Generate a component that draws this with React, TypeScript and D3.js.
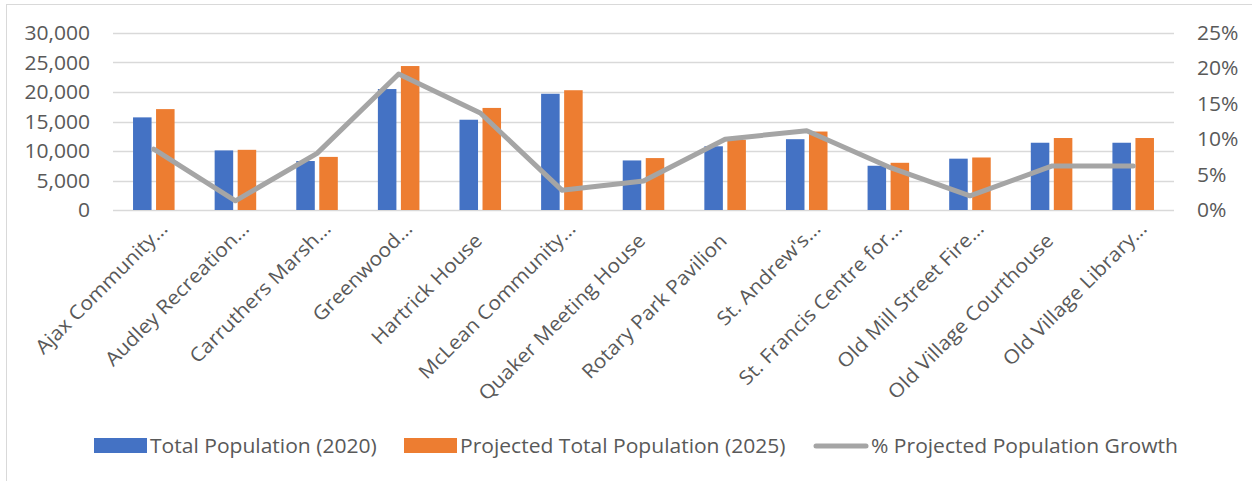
import React from "react";
import * as d3 from "d3";

const categories = [
  "Ajax Community…",
  "Audley Recreation…",
  "Carruthers Marsh…",
  "Greenwood…",
  "Hartrick House",
  "McLean Community…",
  "Quaker Meeting House",
  "Rotary Park Pavilion",
  "St. Andrew's…",
  "St. Francis Centre for…",
  "Old Mill Street Fire…",
  "Old Village Courthouse",
  "Old Village Library…",
];
const pop2020 = [15700, 10100, 8300, 20500, 15300, 19700, 8400, 10800, 12000, 7500, 8700, 11400, 11400];
const pop2025 = [17100, 10200, 9000, 24400, 17300, 20300, 8800, 11900, 13300, 8000, 8900, 12200, 12200];
const growth = [8.6, 1.3, 8.0, 19.2, 13.7, 2.8, 4.1, 10.0, 11.2, 6.1, 2.0, 6.2, 6.2];
const leftTicks = [0, 5000, 10000, 15000, 20000, 25000, 30000];
const rightTicks = [0, 5, 10, 15, 20, 25];
const seriesNames = ["Total Population (2020)", "Projected Total Population (2025)", "% Projected Population Growth"];

const W = 1252;
const H = 481;
const BLUE = "#4472c4";
const ORANGE = "#ed7d31";
const GRAY = "#a5a5a5";
const TEXT = "#595959";
const GRID = "#d9d9d9";
const FONT = "'Open Sans', sans-serif";
const FS = 19.5;
const SX = 1.08;

function T({ x, y, anchor = "start", rotate = 0, children }: any) {
  return (
    <text
      transform={`translate(${x} ${y}) rotate(${rotate}) scale(${SX} 1)`}
      x={0}
      y={0}
      dy={rotate ? 0 : "0.36em"}
      textAnchor={anchor}
      fontSize={FS}
      fill={TEXT}
    >
      {children}
    </text>
  );
}

export default function App() {
  const x = d3.scaleBand<string>().domain(categories).range([113, 1174]).padding(0);
  const yL = d3.scaleLinear().domain([0, 30000]).range([210, 33]);
  const yR = d3.scaleLinear().domain([0, 25]).range([210, 33]);
  const bw = x.bandwidth();
  const barW = bw * 0.227;
  const gap = bw * 0.055;
  const fmt = d3.format(",");
  const line = d3
    .line<number>()
    .x((_, i) => (x(categories[i]) as number) + bw / 2)
    .y((d) => yR(d));

  return (
    <div style={{ position: "absolute", left: 0, top: 0 }}>
      <svg width={W} height={H} style={{ display: "block", background: "#fff" }} fontFamily={FONT}>
        <rect x={6.5} y={4.5} width={W + 10} height={H + 10} fill="#fff" stroke={GRID} strokeWidth={1} />
        {leftTicks.map((t) => (
          <line key={"g" + t} x1={113} x2={1174} y1={Math.round(yL(t)) + 0.5} y2={Math.round(yL(t)) + 0.5} stroke={GRID} strokeWidth={1.3} />
        ))}
        {leftTicks.map((t) => (
          <T key={"l" + t} x={90} y={yL(t)} anchor="end">
            {fmt(t)}
          </T>
        ))}
        {rightTicks.map((t) => (
          <T key={"r" + t} x={1197} y={yR(t)}>
            {t + "%"}
          </T>
        ))}
        {categories.map((c, i) => {
          const cx = (x(c) as number) + bw / 2;
          return (
            <g key={"b" + i}>
              <rect x={cx - gap / 2 - barW} y={yL(pop2020[i])} width={barW} height={yL(0) - yL(pop2020[i])} fill={BLUE} />
              <rect x={cx + gap / 2} y={yL(pop2025[i])} width={barW} height={yL(0) - yL(pop2025[i])} fill={ORANGE} />
            </g>
          );
        })}
        <path d={line(growth) || ""} fill="none" stroke={GRAY} strokeWidth={5} strokeLinejoin="round" strokeLinecap="round" />
        {categories.map((c, i) => {
          const cx = (x(c) as number) + bw / 2;
          const ell = c.endsWith("…");
          const ax = cx + (ell ? 15 : 3);
          const ay = ell ? 230 : 242;
          return (
            <T key={"x" + i} x={ax} y={ay} anchor="end" rotate={-45}>
              {c}
            </T>
          );
        })}
        <rect x={94} y={438} width={53} height={15} fill={BLUE} />
        <T x={150} y={446}>{seriesNames[0]}</T>
        <rect x={404} y={438} width={53} height={15} fill={ORANGE} />
        <T x={460} y={446}>{seriesNames[1]}</T>
        <line x1={816} x2={866} y1={446} y2={446} stroke={GRAY} strokeWidth={5} strokeLinecap="round" />
        <T x={871} y={446}>{seriesNames[2]}</T>
      </svg>
    </div>
  );
}
